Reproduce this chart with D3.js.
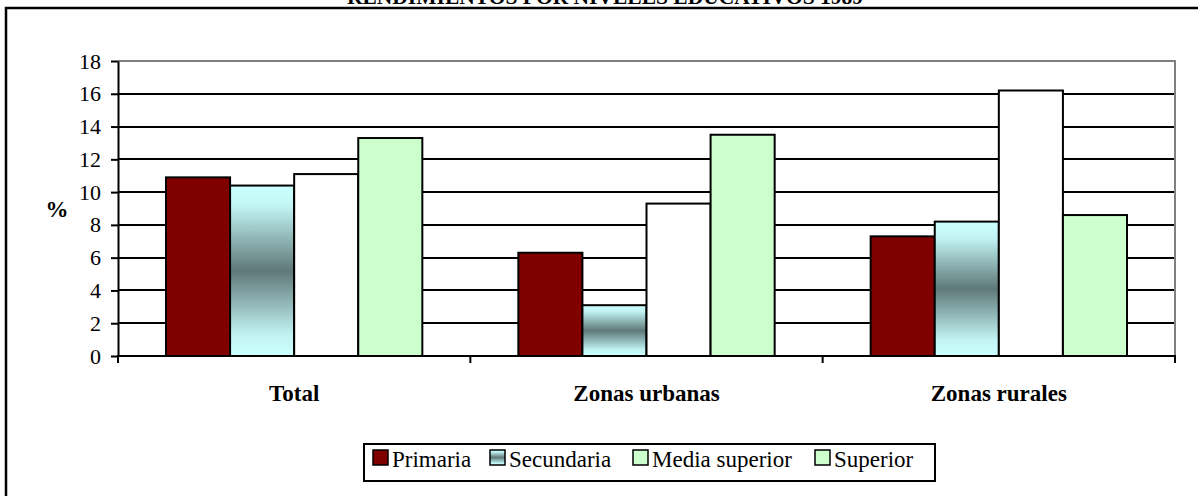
<!DOCTYPE html>
<html>
<head>
<meta charset="utf-8">
<script src="https://cdn.jsdelivr.net/npm/d3@7"></script>
<style>
  body { margin: 0; background: #fff; }
  svg { display: block; font-family: "Liberation Serif", "Times New Roman", serif; }
</style>
</head>
<body>
<svg id="chart" width="1198" height="496"></svg>
<script>
'use strict'

var categories = ["Total", "Zonas urbanas", "Zonas rurales"];
var seriesNames = ["Primaria", "Secundaria", "Media superior", "Superior"];
var primaria = [10.9, 6.3, 7.3];
var secundaria = [10.4, 3.1, 8.2];
var mediaSuperior = [11.1, 9.3, 16.2];
var superior = [13.3, 13.5, 8.6];
var yTicks = [0, 2, 4, 6, 8, 10, 12, 14, 16, 18];

var seriesValues = [primaria, secundaria, mediaSuperior, superior];
var barFills = ["#800000", "url(#secGrad)", "#ffffff", "#ccffcc"];
var legendFills = ["#800000", "url(#secGrad)", "#ccffcc", "#ccffcc"];

var svg = d3.select("#chart");

var defs = svg.append("defs");
var grad = defs.append("linearGradient").attr("id", "secGrad")
    .attr("x1", 0).attr("y1", 0).attr("x2", 0).attr("y2", 1);
grad.append("stop").attr("offset", "0%").attr("stop-color", "#ccffff");
grad.append("stop").attr("offset", "12%").attr("stop-color", "#c2f4f4");
grad.append("stop").attr("offset", "50%").attr("stop-color", "#5f7878");
grad.append("stop").attr("offset", "88%").attr("stop-color", "#c2f4f4");
grad.append("stop").attr("offset", "100%").attr("stop-color", "#ccffff");

// outer frame (runs off the right and bottom edge)
svg.append("rect")
    .attr("x", 6).attr("y", 8)
    .attr("width", 1210).attr("height", 510)
    .attr("fill", "none").attr("stroke", "#000").attr("stroke-width", 2.5);

// title, mostly cut off at the top
svg.append("text")
    .attr("x", 605).attr("y", 4)
    .attr("text-anchor", "middle")
    .attr("font-weight", "bold")
    .attr("font-size", 21.5)
    .text("RENDIMIENTOS POR NIVELES EDUCATIVOS 1989");

var plotLeft = 118, plotRight = 1175, plotTop = 61, plotBottom = 356;

var x0 = d3.scaleBand().domain(categories).range([plotLeft, plotRight]);
var x1 = d3.scaleBand().domain(seriesNames).range([48, x0.bandwidth() - 48]);
var y = d3.scaleLinear().domain([0, 18]).range([plotBottom, plotTop]);

// grid lines
svg.append("g").selectAll("line")
    .data(yTicks.filter(function (d) { return d > 0 && d < 18; }))
    .enter().append("line")
    .attr("x1", plotLeft).attr("x2", plotRight)
    .attr("y1", function (d) { return Math.round(y(d)); })
    .attr("y2", function (d) { return Math.round(y(d)); })
    .attr("stroke", "#000").attr("stroke-width", 2);

// plot area border (top and right, gray)
svg.append("path")
    .attr("d", "M" + plotLeft + "," + y(18) + "H" + plotRight + "V" + plotBottom)
    .attr("fill", "none").attr("stroke", "#808080").attr("stroke-width", 2);

// bars
var groups = svg.append("g").selectAll("g")
    .data(seriesNames)
    .enter().append("g");

groups.each(function (name, si) {
    d3.select(this).selectAll("rect")
        .data(seriesValues[si])
        .enter().append("rect")
        .attr("x", function (d, ci) { return x0(categories[ci]) + x1(name); })
        .attr("y", function (d) { return y(d); })
        .attr("width", x1.bandwidth())
        .attr("height", function (d) { return y(0) - y(d); })
        .attr("fill", barFills[si])
        .attr("stroke", "#000").attr("stroke-width", 2);
});

// y axis
var yAxis = d3.axisLeft(y).tickValues(yTicks).tickSize(7).tickSizeOuter(0).tickPadding(10);
var gy = svg.append("g").attr("transform", "translate(" + plotLeft + ",0)").call(yAxis);
gy.attr("font-family", null).attr("font-size", null);
gy.select(".domain").attr("stroke", "#000").attr("stroke-width", 2);
gy.selectAll(".tick line").attr("stroke", "#000").attr("stroke-width", 2);
gy.selectAll(".tick text")
    .attr("font-size", 22).attr("fill", "#000");

// x axis: ticks at category boundaries
svg.append("line")
    .attr("x1", plotLeft - 1).attr("x2", plotRight + 1)
    .attr("y1", plotBottom).attr("y2", plotBottom)
    .attr("stroke", "#000").attr("stroke-width", 2);
svg.append("g").selectAll("line")
    .data(categories.concat(["end"]))
    .enter().append("line")
    .attr("x1", function (d, i) { return i < categories.length ? x0(d) : plotRight; })
    .attr("x2", function (d, i) { return i < categories.length ? x0(d) : plotRight; })
    .attr("y1", plotBottom).attr("y2", plotBottom + 7)
    .attr("stroke", "#000").attr("stroke-width", 2);

svg.append("g").selectAll("text")
    .data(categories)
    .enter().append("text")
    .attr("x", function (d) { return x0(d) + x0.bandwidth() / 2; })
    .attr("y", 401)
    .attr("text-anchor", "middle")
    .attr("font-weight", "bold")
    .attr("font-size", 23)
    .text(function (d) { return d; });

// y axis title
svg.append("text")
    .attr("x", 57).attr("y", 217)
    .attr("text-anchor", "middle")
    .attr("font-weight", "bold")
    .attr("font-size", 23)
    .text("%");

// legend
var legend = svg.append("g");
legend.append("rect")
    .attr("x", 364).attr("y", 444)
    .attr("width", 571).attr("height", 37)
    .attr("fill", "#fff").attr("stroke", "#000").attr("stroke-width", 2);

var legendX = [373, 490, 633, 815];
var items = legend.selectAll("g.item")
    .data(seriesNames)
    .enter().append("g").attr("class", "item")
    .attr("transform", function (d, i) { return "translate(" + legendX[i] + ",0)"; });
items.append("rect")
    .attr("x", 0).attr("y", 450)
    .attr("width", 15).attr("height", 15)
    .attr("fill", function (d, i) { return legendFills[i]; })
    .attr("stroke", "#000").attr("stroke-width", 1.5);
items.append("text")
    .attr("x", 19).attr("y", 467)
    .attr("font-size", 23)
    .text(function (d) { return d; });
</script>
</body>
</html>
